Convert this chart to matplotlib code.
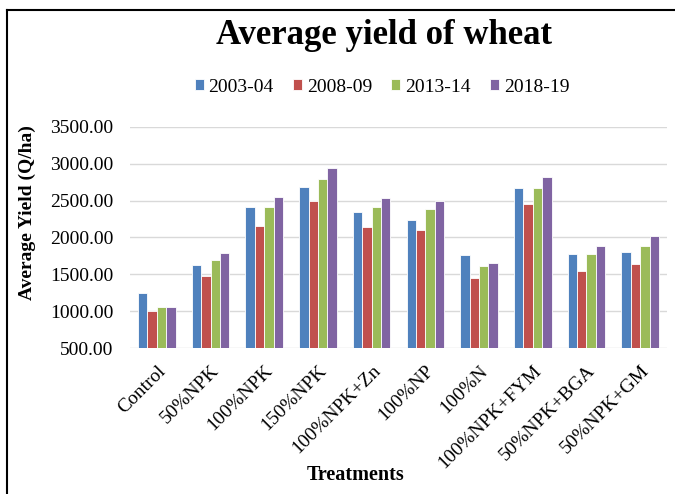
import numpy as np
import matplotlib
matplotlib.use("Agg")
import matplotlib.pyplot as plt
from matplotlib.lines import Line2D
from matplotlib.transforms import ScaledTranslation

# ── data ───────────────────────────────────────────────────────────────────────
treatments = ["Control", "50%NPK", "100%NPK", "150%NPK", "100%NPK+Zn",
              "100%NP", "100%N", "100%NPK+FYM", "50%NPK+BGA", "50%NPK+GM"]
seasons = ["2003-04", "2008-09", "2013-14", "2018-19"]

y_2003 = [1250, 1630, 2410, 2680, 2350, 2240, 1765, 2670, 1778, 1805]
y_2008 = [1010, 1485, 2150, 2490, 2138, 2100, 1456, 2450, 1542, 1642]
y_2013 = [1060, 1690, 2410, 2795, 2410, 2385, 1620, 2670, 1778, 1890]
y_2018 = [1060, 1790, 2548, 2935, 2534, 2498, 1655, 2818, 1890, 2025]

colors = ["#4F81BD", "#C0504D", "#9BBB59", "#8064A2"]
SERIF = "Liberation Serif"

# ── plot ───────────────────────────────────────────────────────────────────────
fig = plt.figure(figsize=(6.75, 4.94), dpi=100)
ax = fig.add_axes([130 / 675, 1 - 348.3 / 494, 537 / 675, (348.3 - 126.7) / 494])

x = np.arange(len(treatments))
width = 0.175
series = [y_2003, y_2008, y_2013, y_2018]
for i, (vals, c, lab) in enumerate(zip(series, colors, seasons)):
    ax.bar(x + (i - 1.5) * width, vals, width, color=c, edgecolor="white",
           linewidth=0.6, label=lab, zorder=3)

ax.set_ylim(500, 3500)
ax.set_xlim(-0.5, len(treatments) - 0.5)
ax.set_yticks(np.arange(500, 3501, 500))
ax.set_yticklabels([f"{v:.2f}" for v in np.arange(500, 3501, 500)],
                   fontfamily=SERIF, fontsize=14)
ax.set_xticks(x)
ax.set_xticklabels(treatments, rotation=45, ha="right", rotation_mode="anchor",
                   fontfamily=SERIF, fontsize=14)
shift = ScaledTranslation(8 / 100, 0, fig.dpi_scale_trans)
for lbl in ax.get_xticklabels():
    lbl.set_transform(lbl.get_transform() + shift)
ax.tick_params(axis="y", length=0, pad=12)
ax.tick_params(axis="x", length=0, pad=10)
ax.grid(axis="y", color="#D9D9D9", linewidth=1.0, zorder=0)
for s in ax.spines.values():
    s.set_visible(False)

fig.text(27 / 675, 1 - 213 / 494, "Average Yield (Q/ha)", fontfamily=SERIF,
         fontweight="bold", fontsize=14, rotation=90, ha="center", va="center")
fig.text(356 / 675, 1 - 475 / 494, "Treatments", fontfamily=SERIF,
         fontweight="bold", fontsize=14.5, ha="center", va="center")
fig.text(384 / 675, 1 - 36 / 494, "Average yield of wheat", fontfamily=SERIF,
         fontweight="bold", fontsize=25, ha="center", va="center")

fig.legend(loc="center", bbox_to_anchor=(382 / 675, 1 - 87 / 494), ncol=4,
           frameon=False, prop={"family": SERIF, "size": 14},
           handlelength=0.45, handleheight=0.45, handletextpad=0.25,
           columnspacing=1.0)

# outer border (top and left edges visible)
fig.add_artist(Line2D([7 / 675, 1], [1 - 10 / 494, 1 - 10 / 494],
                      transform=fig.transFigure, color="black", linewidth=1.5))
fig.add_artist(Line2D([7 / 675, 7 / 675], [0, 1 - 10 / 494],
                      transform=fig.transFigure, color="black", linewidth=1.5))

fig.canvas.draw()
r = fig.canvas.get_renderer()
for lbl in ax.get_yticklabels()[-1:]:
    print("ytick", lbl.get_window_extent(r))
print("axes", ax.get_window_extent(r))
fig.savefig("out.png", dpi=100)
